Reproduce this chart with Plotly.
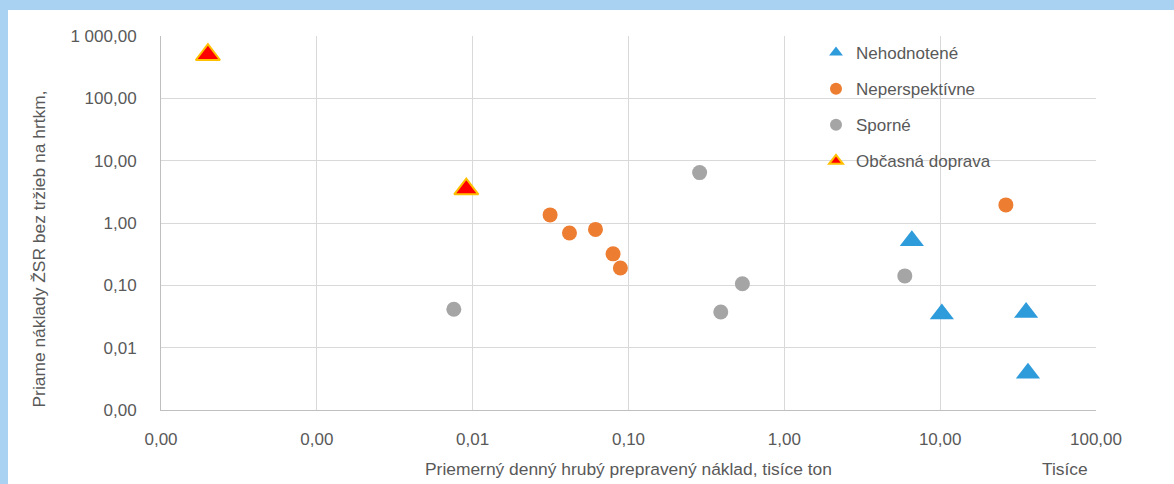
import plotly.graph_objects as go

# ---- data (x: tisíce ton per day, displayed in thousands; y: náklady na hrtkm) ----
neh_x = [6.58, 10.25, 35.6, 36.6]
neh_y = [0.52, 0.0348, 0.0365, 0.0039]

nep_x = [0.0314, 0.0418, 0.0614, 0.0796, 0.0887, 26.4]
nep_y = [1.35, 0.69, 0.79, 0.32, 0.19, 1.95]

spo_x = [0.00757, 0.286, 0.391, 0.538, 5.93]
spo_y = [0.0413, 6.44, 0.0374, 0.106, 0.1416]

obc_x = [0.0002, 0.0091]
obc_y = [500, 3.5]

x_tickvals = [0.0001, 0.001, 0.01, 0.1, 1, 10, 100]
x_ticktext = ["0,00", "0,00", "0,01", "0,10", "1,00", "10,00", "100,00"]
y_tickvals = [0.001, 0.01, 0.1, 1, 10, 100, 1000]
y_ticktext = ["0,00", "0,01", "0,10", "1,00", "10,00", "100,00", "1 000,00"]

FONT = "Liberation Sans, Arial, sans-serif"
TXT = "#595959"

fig = go.Figure()
fig.add_trace(go.Scatter(x=neh_x, y=neh_y, mode="markers", name="Nehodnotené",
                         legendgroup="a",
                         marker=dict(symbol="triangle-up", size=21, color="#2E9BDB")))
fig.add_trace(go.Scatter(x=nep_x, y=nep_y, mode="markers", name="Neperspektívne",
                         legendgroup="b",
                         marker=dict(symbol="circle", size=15, color="#ED7D31")))
fig.add_trace(go.Scatter(x=spo_x, y=spo_y, mode="markers", name="Sporné",
                         legendgroup="c",
                         marker=dict(symbol="circle", size=15, color="#A5A5A5")))
fig.add_trace(go.Scatter(x=obc_x, y=obc_y, mode="markers", name="Občasná doprava",
                         legendgroup="d",
                         marker=dict(symbol="triangle-up", size=21, color="#FF0000",
                                     line=dict(color="#FFC000", width=2))))

W, H = 1174, 484
L, R, T, B = 161, 78, 36, 74
pw, ph = W - L - R, H - T - B

def px(xp):
    return (xp - L) / pw

def py(yp):
    return (H - B - yp) / ph

fig.update_layout(
    width=W, height=H,
    margin=dict(l=L, r=R, t=T, b=B, pad=0),
    paper_bgcolor="#A9D2F2",
    plot_bgcolor="white",
    font=dict(family=FONT, size=17, color=TXT),
    showlegend=True,
    legend=dict(x=px(816), y=py(35), xanchor="left", yanchor="top",
                bgcolor="rgba(0,0,0,0)", traceorder="grouped", tracegroupgap=11,
                itemsizing="constant", font=dict(family=FONT, size=17, color=TXT)),
    shapes=[dict(type="rect", xref="paper", yref="paper", layer="below",
                 x0=px(8), x1=px(W + 5), y0=py(H + 5), y1=py(10),
                 fillcolor="white", line=dict(width=0))],
    annotations=[
        dict(text="Priemerný denný hrubý prepravený náklad, tisíce ton", xref="paper", yref="paper",
             x=px(628.5), y=py(469), xanchor="center", yanchor="middle", showarrow=False,
             font=dict(family=FONT, size=17.4, color=TXT)),
        dict(text="Tisíce", xref="paper", yref="paper",
             x=px(1065), y=py(469), xanchor="center", yanchor="middle", showarrow=False,
             font=dict(family=FONT, size=17.4, color=TXT)),
        dict(text="Priame náklady ŽSR bez tržieb na hrtkm,", xref="paper", yref="paper",
             x=px(39), y=py(248.5), xanchor="center", yanchor="middle",
             showarrow=False, textangle=-90,
             font=dict(family=FONT, size=17.4, color=TXT)),
    ],
)
fig.update_xaxes(type="log", range=[-4, 2], tickvals=x_tickvals, ticktext=x_ticktext,
                 showgrid=True, gridcolor="#D9D9D9", gridwidth=1,
                 showline=True, linecolor="#BFBFBF", linewidth=1, mirror=False,
                 zeroline=False, ticks="outside", ticklen=14, tickcolor="rgba(0,0,0,0)",
                 tickfont=dict(family=FONT, size=17, color=TXT))
fig.update_yaxes(type="log", range=[-3, 3], tickvals=y_tickvals, ticktext=y_ticktext,
                 showgrid=True, gridcolor="#D9D9D9", gridwidth=1,
                 showline=True, linecolor="#BFBFBF", linewidth=1, mirror=False,
                 zeroline=False, ticks="outside", ticklen=20, tickcolor="rgba(0,0,0,0)",
                 tickfont=dict(family=FONT, size=17, color=TXT))

fig.write_html("out.html", config={"displayModeBar": False},
               post_script="document.body.style.margin='0';")
